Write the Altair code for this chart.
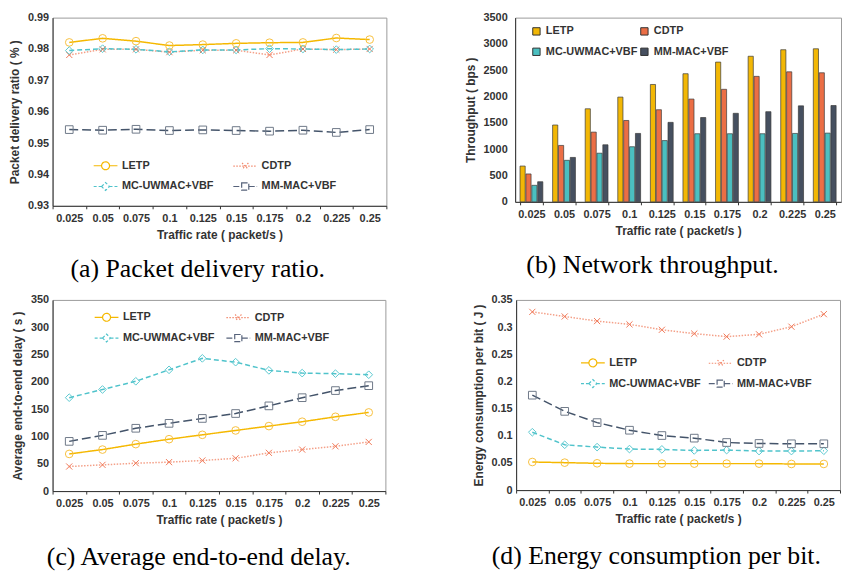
import altair as alt
import pandas as pd

rates = ["0.025", "0.05", "0.075", "0.1", "0.125", "0.15", "0.175", "0.2", "0.225", "0.25"]
series = ["LETP", "CDTP", "MC-UWMAC+VBF", "MM-MAC+VBF"]

# (a) Packet delivery ratio
pdr_letp = [0.9821, 0.9834, 0.9825, 0.9811, 0.9814, 0.9818, 0.9820, 0.9821, 0.9835, 0.9830]
pdr_cdtp = [0.9781, 0.9799, 0.9799, 0.9790, 0.9796, 0.9796, 0.9781, 0.9800, 0.9798, 0.9800]
pdr_mc = [0.9795, 0.9801, 0.9799, 0.9791, 0.9797, 0.9797, 0.9801, 0.9800, 0.9798, 0.9800]
pdr_mm = [0.9543, 0.9541, 0.9544, 0.9540, 0.9542, 0.9540, 0.9538, 0.9541, 0.9534, 0.9543]

# (b) Network throughput
thr_letp = [680, 1460, 1768, 1990, 2230, 2434, 2655, 2766, 2890, 2908]
thr_cdtp = [530, 1072, 1325, 1546, 1750, 1953, 2138, 2384, 2470, 2452]
thr_mc = [314, 789, 924, 1047, 1164, 1294, 1294, 1294, 1300, 1306]
thr_mm = [382, 844, 1084, 1300, 1510, 1602, 1682, 1713, 1824, 1830]

# (c) Average end-to-end delay
del_letp = [68, 76, 86, 95, 103, 111, 119, 127, 136, 144]
del_cdtp = [45, 48, 51, 53, 56, 60, 70, 76, 82, 90]
del_mc = [171, 186, 201, 222, 243, 236, 221, 216, 215, 213]
del_mm = [91, 102, 115, 124, 133, 142, 156, 171, 184, 193]

# (d) Energy consumption per bit
en_letp = [0.0517, 0.0505, 0.0493, 0.0487, 0.0487, 0.0487, 0.0487, 0.0487, 0.0481, 0.0481]
en_cdtp = [0.328, 0.3195, 0.311, 0.305, 0.295, 0.288, 0.2824, 0.2867, 0.3007, 0.3238]
en_mc = [0.1065, 0.0834, 0.0791, 0.0755, 0.0749, 0.0730, 0.0736, 0.0718, 0.0718, 0.0724]
en_mm = [0.1747, 0.1449, 0.1242, 0.1102, 0.1004, 0.0956, 0.0876, 0.0858, 0.0852, 0.0852]

line_colors = ["#F5B800", "#F4A088", "#4FC3CB", "#44546A"]
pt_colors = ["#F7C040", "#F07858", "#5AC8CF", "#6E7888"]
leg_colors = ["#F5B800", "#F28A6E", "#4FC3CB", "#56627A"]
bar_colors = ["#F2B705", "#EB6E45", "#4BBFC0", "#465060"]
dashes = [[1, 0], [1.5, 1.5], [5, 3], [9, 4]]
leg_dashes = [[1, 0], [1.5, 1.5], [3, 2], [6, 2]]

X_PATH = "M-0.8,-0.8L0.8,0.8M0.8,-0.8L-0.8,0.8"
shapes = ["circle", X_PATH, "diamond", "square"]
# legend glyphs: a short line with the series marker in its middle
leg_shapes = [
    "M-3,0L-1,0M1,0L3,0M-1,0A1,1,0,1,1,1,0A1,1,0,1,1,-1,0Z",
    "M-3,0L3,0M-0.8,-0.8L0.8,0.8M0.8,-0.8L-0.8,0.8",
    "M-3,0L-1,0M1,0L3,0M-1,0L0,-1L1,0L0,1Z",
    "M-3,0L-0.9,0M0.9,0L3,0M-0.9,-0.9L0.9,-0.9L0.9,0.9L-0.9,0.9Z",
]

FONT = "Liberation Sans"
TXT = "#333333"
IND = dict(color="independent", stroke="independent", shape="independent", strokeDash="independent")


def long_df(vals):
    rows = []
    for s, v in zip(series, vals):
        for r, y in zip(rates, v):
            rows.append({"rate": r, "series": s, "value": y})
    return pd.DataFrame(rows)


def caption(text, offset):
    return alt.TitleParams(text, orient="bottom", anchor="middle", frame="bounds",
                           font="Liberation Serif", fontSize=26, fontWeight="normal",
                           color="black", offset=offset)


def x_axis_line():
    return alt.X("rate:N", sort=rates,
                 scale=alt.Scale(type="band", paddingInner=0, paddingOuter=0),
                 axis=alt.Axis(title="Traffic rate ( packet/s )", labelAngle=0, tickBand="extent",
                               tickSize=3, labelPadding=4, titlePadding=6))


def line_panel(vals, ytitle, ydomain, yvalues, yfmt, w, h, legx, legy, colpad, cap, cap_off,
               lab_pad=4, title_pad=6):
    df = long_df(vals)
    x = x_axis_line()
    y = alt.Y("value:Q", scale=alt.Scale(domain=ydomain, nice=False, zero=False),
              axis=alt.Axis(title=ytitle, values=yvalues, format=yfmt, ticks=False,
                            labelPadding=lab_pad, titlePadding=title_pad))
    leg = alt.Legend(title=None, orient="none", legendX=legx, legendY=legy, columns=2,
                     direction="horizontal", columnPadding=colpad, rowPadding=8,
                     symbolSize=64, symbolStrokeWidth=1.2, symbolOpacity=1,
                     symbolFillColor="transparent", labelOffset=11, padding=0)
    base = alt.Chart(df)
    lines = base.mark_line(strokeWidth=1.5).encode(
        x=x, y=y,
        color=alt.Color("series:N", scale=alt.Scale(domain=series, range=line_colors), legend=None),
        strokeDash=alt.StrokeDash("series:N", scale=alt.Scale(domain=series, range=dashes), legend=None),
    )
    pts = base.mark_point(filled=False, size=60, strokeWidth=1, opacity=1).encode(
        x=x, y=y,
        stroke=alt.Stroke("series:N", scale=alt.Scale(domain=series, range=pt_colors), legend=None),
        shape=alt.Shape("series:N", scale=alt.Scale(domain=series, range=shapes), legend=None),
    )
    legend_layer = base.transform_filter(alt.datum.value < -1e9).mark_point(
        filled=False, opacity=1, size=64
    ).encode(
        x=x, y=y,
        stroke=alt.Stroke("series:N", scale=alt.Scale(domain=series, range=leg_colors), legend=leg),
        shape=alt.Shape("series:N", scale=alt.Scale(domain=series, range=leg_shapes), legend=leg),
        strokeDash=alt.StrokeDash("series:N", scale=alt.Scale(domain=series, range=leg_dashes), legend=leg),
    )
    return (
        alt.layer(lines, pts, legend_layer)
        .resolve_scale(**IND)
        .properties(width=w, height=h, title=caption(cap, cap_off))
    )


pa = line_panel([pdr_letp, pdr_cdtp, pdr_mc, pdr_mm], "Packet delivery ratio ( % )",
                [0.93, 0.99], [0.93, 0.94, 0.95, 0.96, 0.97, 0.98, 0.99], ".2f",
                337, 190, 48, 144, 17, "(a) Packet delivery ratio.", 16)

# (b) bar chart
df_b = long_df([thr_letp, thr_cdtp, thr_mc, thr_mm])
pb = alt.Chart(df_b).mark_bar(stroke="#3a3a3a", strokeWidth=0.7).encode(
    x=alt.X("rate:N", sort=rates, scale=alt.Scale(paddingInner=0.3, paddingOuter=0.15),
            axis=alt.Axis(title="Traffic rate ( packet/s )", labelAngle=0, tickBand="extent",
                          tickSize=3, labelPadding=4, titlePadding=6)),
    xOffset=alt.XOffset("series:N", sort=series, scale=alt.Scale(domain=series, paddingInner=0.12)),
    y=alt.Y("value:Q", scale=alt.Scale(domain=[0, 3500], nice=False),
            axis=alt.Axis(title="Throughput ( bps )", values=list(range(0, 3501, 500)), format="d",
                          ticks=False, labelPadding=8, titlePadding=6)),
    color=alt.Color("series:N", scale=alt.Scale(domain=series, range=bar_colors),
                    legend=alt.Legend(title=None, orient="none", legendX=16, legendY=8, columns=2,
                                      direction="horizontal",
                                      columnPadding=0, rowPadding=8, symbolType="square",
                                      symbolSize=55, symbolStrokeColor="#333333",
                                      symbolStrokeWidth=1, labelOffset=4, padding=0)),
).properties(width=329, height=186, title=caption("(b) Network throughput.", 16))

pc = line_panel([del_letp, del_cdtp, del_mc, del_mm], "Average end-to-end delay ( s )",
                [0, 350], list(range(0, 351, 50)), "d",
                336, 193, 49, 12, 9, "(c) Average end-to-end delay.", 19)

pd_ = line_panel([en_letp, en_cdtp, en_mc, en_mm], "Energy consumption per bit ( J )",
                 [0, 0.35], [0, 0.05, 0.1, 0.15, 0.2, 0.25, 0.3, 0.35], "~g",
                 327, 192, 72, 58, 5, "(d) Energy consumption per bit.", 19)

row1 = alt.hconcat(pa, pb, spacing=77).resolve_scale(**IND).resolve_legend(**IND)
row2 = alt.hconcat(pc, pd_, spacing=86).resolve_scale(**IND).resolve_legend(**IND)

chart = alt.vconcat(row1, row2, spacing=10).resolve_scale(**IND).resolve_legend(**IND).properties(
    padding=0
).configure(font=FONT).configure_view(
    stroke="#9a9a9a", strokeWidth=1
).configure_axis(
    labelFont=FONT, labelFontSize=11, labelColor=TXT, labelFontWeight="bold",
    titleFont=FONT, titleFontSize=12, titleColor=TXT, titleFontWeight="bold",
    domainColor="#333333", tickColor="#333333", grid=False,
).configure_legend(
    labelFont=FONT, labelFontSize=11, labelFontWeight="bold", labelColor=TXT
)

chart.save("out.html", embed_options={"renderer": "svg", "actions": False})
